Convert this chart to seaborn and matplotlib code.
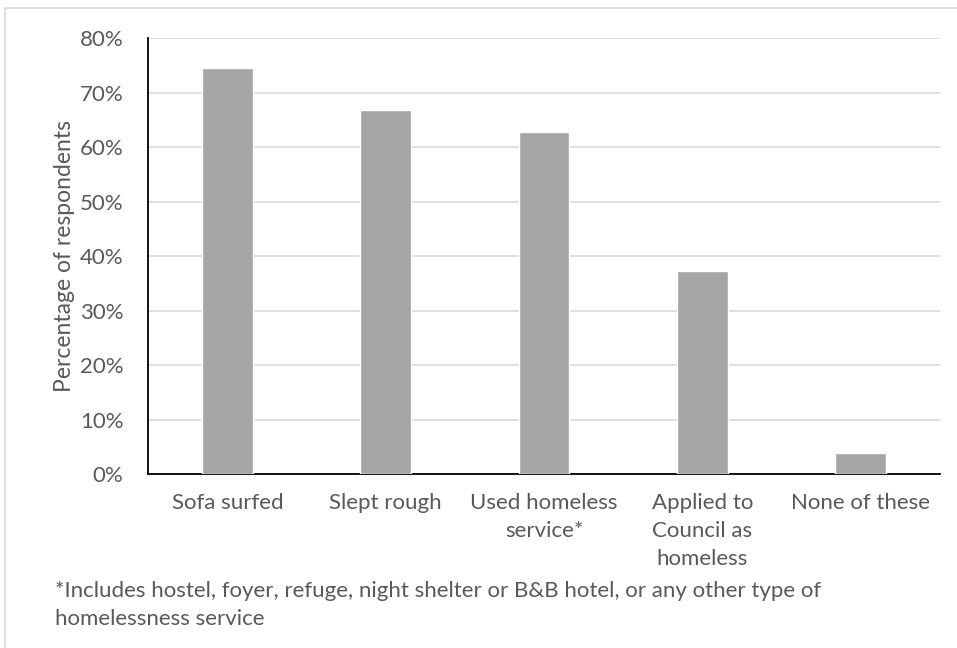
import matplotlib
matplotlib.use("Agg")
import matplotlib.pyplot as plt
import seaborn as sns
import pandas as pd
from matplotlib.ticker import PercentFormatter
from matplotlib.patches import Rectangle

# data
categories = ["Sofa surfed", "Slept rough", "Used homeless\nservice*",
              "Applied to\nCouncil as\nhomeless", "None of these"]
percent = [74.5, 66.8, 62.8, 37.2, 3.9]
footnote = ("*Includes hostel, foyer, refuge, night shelter or B&B hotel, or any other type of\n"
            "homelessness service")

df = pd.DataFrame({"category": categories, "percent": percent})

sns.set_style("white")
plt.rcParams["font.family"] = ["Lato", "DejaVu Sans"]

fig = plt.figure(figsize=(9.57, 6.48), dpi=100)
ax = fig.add_axes([0.155, 0.2685, 0.827, 0.6725])

sns.barplot(data=df, x="category", y="percent", color="#a5a5a5", width=0.32,
            saturation=1, ax=ax, zorder=3)

ax.set_ylim(0, 80)
ax.set_yticks(range(0, 81, 10))
ax.yaxis.set_major_formatter(PercentFormatter(decimals=0))
ax.grid(axis="y", color="#d9d9d9", linewidth=1.2, zorder=0)
ax.set_axisbelow(True)

for s in ["top", "right"]:
    ax.spines[s].set_visible(False)
ax.spines["left"].set_color("black")
ax.spines["bottom"].set_color("black")
ax.spines["left"].set_linewidth(1.3)
ax.spines["bottom"].set_linewidth(1.3)

ax.tick_params(axis="both", length=0, labelsize=16, colors="#595959")
ax.tick_params(axis="x", pad=14)
ax.tick_params(axis="y", pad=18)
for lbl in ax.get_xticklabels():
    lbl.set_linespacing(1.5)
ax.set_xlabel("")
ax.set_ylabel("Percentage of respondents", fontsize=16.5, color="#595959", labelpad=3)

fig.text(0.057, 0.066, footnote, fontsize=16, color="#595959", linespacing=1.5,
         va="center", ha="left")

# light frame around the chart area
fig.add_artist(Rectangle((0.005, -0.1), 1.2, 1.087, transform=fig.transFigure,
                         fill=False, edgecolor="#d9d9d9", linewidth=1.2))

fig.savefig("out.png", dpi=100)
